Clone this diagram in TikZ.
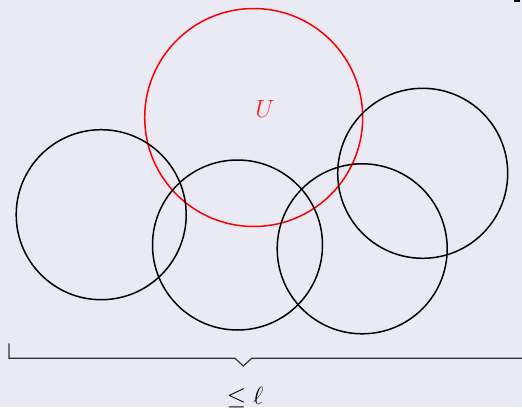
\documentclass[tikz,border=0pt]{standalone}
\usepackage{amssymb}
\definecolor{bgcol}{RGB}{234,234,245}
\definecolor{bracecol}{RGB}{51,51,51}
\begin{document}
\begin{tikzpicture}[x=1pt,y=-1pt,
  disc/.style={circle,draw=black,line width=1.5pt,inner sep=0pt,minimum size=170pt},
  reddisc/.style={circle,draw=red,line width=1.5pt,inner sep=0pt,minimum size=218pt},
  lbl/.style={inner sep=0pt,font=\fontsize{24}{28}\selectfont}]
\fill[bgcol] (0,0) rectangle (522,407);
\useasboundingbox (0,0) rectangle (522,407);
\node[reddisc] (U) at (253.7,117.5) {};
\node[lbl,text=red!85!white] (Ulab) at (265,108.5) {$U$};
\node[disc] (c1) at (101.2,214.7) {};
\node[disc] (c2) at (237.5,245) {};
\node[disc] (c3) at (362.2,248.8) {};
\node[disc] (c4) at (422.7,173.3) {};
\coordinate (bl) at (9,343.3);
\coordinate (bc) at (9,358.3);
\coordinate (bm1) at (235,358.3);
\coordinate (bt) at (243.3,366);
\coordinate (bm2) at (251.7,358.3);
\coordinate (br) at (522,358.3);
\draw[bracecol,line width=1.2pt] (bl) -- (bc) -- (bm1) -- (bt) -- (bm2) -- (br);
\node[lbl,anchor=base] (len) at (245,404) {$\leq \ell$};
\fill[black] (514,0) rectangle (520,2);
\end{tikzpicture}
\end{document}
